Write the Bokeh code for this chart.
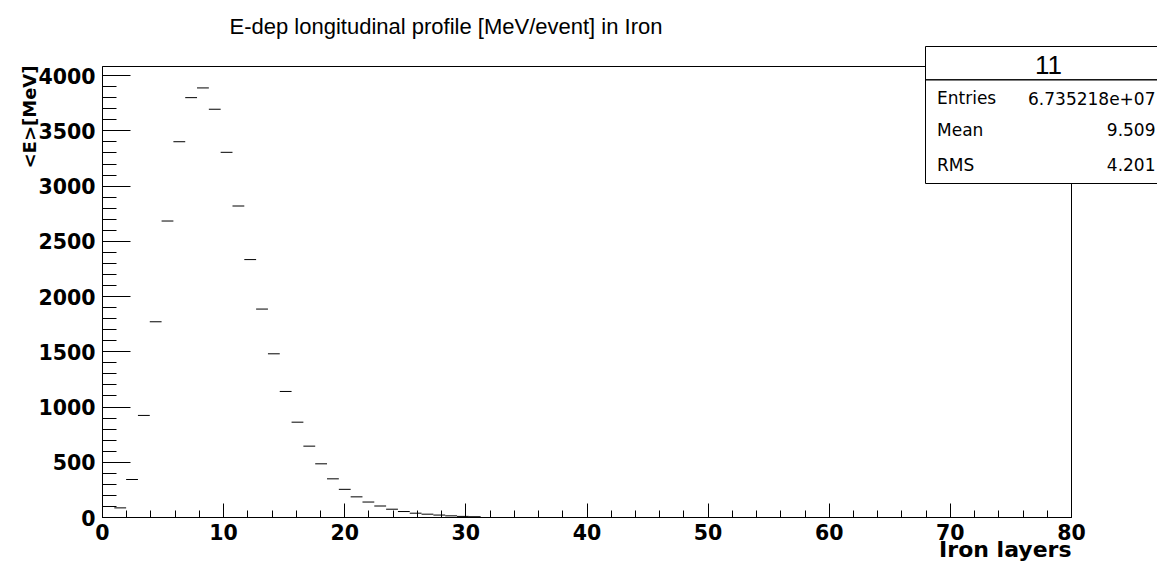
import numpy as np
from bokeh.plotting import figure
from bokeh.models import Range1d, FixedTicker, Label, BoxAnnotation
from bokeh.embed import file_html
from bokeh.resources import INLINE

# ---------------- data ----------------
x_min, x_max, n_bins = 0.0, 80.0, 82
# mean energy deposit per bin [MeV/event], bins 0..31 (rest are ~0)
bin_values = [0, 87, 344, 924, 1772, 2684, 3402, 3801, 3889, 3696,
              3306, 2820, 2335, 1887, 1482, 1141, 863, 646, 486, 350,
              255, 187, 140, 104, 75, 54, 39, 30, 22, 15, 10, 7]
y_max = 4083

title_text = "E-dep longitudinal profile [MeV/event] in Iron"
x_title = "Iron layers"
y_title = "<E>[MeV]"
stats_name = "11"
stats_labels = ["Entries", "Mean", "RMS"]
stats_values = ["6.735218e+07", "9.509", "4.201"]

x_major = list(range(0, 81, 10))
x_minor = list(range(0, 81, 2))
y_major = list(range(0, 4001, 500))
y_minor = list(range(0, 4001, 100))

# ---------------- layout (pixel placement of the drawing box) ----------------
W, H = 1157, 561
FL, FR, FT, FB = 102, 1071, 66, 517

def dx(px):
    return x_min + (px - FL) / (FR - FL) * (x_max - x_min)

def dy(py):
    return (FB - py) / (FB - FT) * y_max

p = figure(width=W, height=H,
           x_range=Range1d(dx(0), dx(W)), y_range=Range1d(dy(H), dy(0)),
           output_backend="svg", toolbar_location=None, title=None,
           min_border_left=0, min_border_right=0,
           min_border_top=0, min_border_bottom=0)
p.background_fill_color = "white"
p.border_fill_color = "white"
p.outline_line_color = None
p.xgrid.visible = False
p.ygrid.visible = False

tick_font = "DejaVu Sans"
for ax in (p.xaxis[0], p.yaxis[0]):
    ax.fixed_location = 0
    ax.axis_line_color = "black"
    ax.major_tick_line_color = "black"
    ax.minor_tick_line_color = "black"
    ax.major_tick_out = 0
    ax.minor_tick_out = 0
    ax.major_label_text_font = tick_font
    ax.major_label_text_font_style = "bold"
    ax.major_label_text_font_size = "20.5px"
    ax.major_label_text_color = "black"

p.xaxis.bounds = (x_min, x_max)
p.xaxis.ticker = FixedTicker(ticks=x_major, minor_ticks=x_minor)
p.xaxis.major_tick_in = 14
p.xaxis.minor_tick_in = 7
p.xaxis.major_label_standoff = 6

p.yaxis.bounds = (0, y_max)
p.yaxis.ticker = FixedTicker(ticks=y_major, minor_ticks=y_minor)
p.yaxis.major_tick_in = 28
p.yaxis.minor_tick_in = 14
p.yaxis.major_label_standoff = 7

# frame (top and right sides)
p.add_layout(BoxAnnotation(left=x_min, right=x_max, bottom=0, top=y_max,
                           fill_alpha=0.0, line_color="black", line_width=1, line_alpha=1.0))

# ---------------- histogram marks ----------------
edges = np.linspace(x_min, x_max, n_bins + 1)
nv = len(bin_values)
p.segment(x0=edges[:nv], x1=edges[1:nv + 1], y0=bin_values, y1=bin_values,
          line_color="black", line_width=1)

# ---------------- titles ----------------
p.add_layout(Label(x=dx(445.5), y=dy(26), text=title_text, text_align="center",
                   text_baseline="middle", text_font="Liberation Sans",
                   text_font_size="22px", text_color="black"))
p.add_layout(Label(x=x_max, y=dy(549), text=x_title, text_align="right",
                   text_baseline="middle", text_font=tick_font, text_font_style="bold",
                   text_font_size="22px", text_color="black"))
p.add_layout(Label(x=dx(29), y=dy(65), text=y_title, angle=np.pi / 2, text_align="right",
                   text_baseline="middle", text_font=tick_font, text_font_style="bold",
                   text_font_size="18px", text_color="black"))

# ---------------- stats box ----------------
p.add_layout(BoxAnnotation(left=dx(925), right=dx(1172), top=dy(46), bottom=dy(183),
                           fill_color="white", fill_alpha=1.0,
                           line_color="black", line_width=1, line_alpha=1.0))
p.add_layout(BoxAnnotation(left=dx(925), right=dx(1172), top=dy(79.3), bottom=dy(79.3),
                           fill_alpha=0.0, line_color="black", line_width=1, line_alpha=1.0))
p.add_layout(Label(x=dx(1048), y=dy(64.7), text=stats_name, text_align="center",
                   text_baseline="middle", text_font="Liberation Sans",
                   text_font_size="26px", text_color="black"))
row_centers = [97.5, 129.0, 164.0]
for lab, val, cy in zip(stats_labels, stats_values, row_centers):
    p.add_layout(Label(x=dx(936.5), y=dy(cy), text=lab, text_align="left",
                       text_baseline="middle", text_font="DejaVu Sans",
                       text_font_size="17px", text_color="black"))
    p.add_layout(Label(x=dx(1155), y=dy(cy), text=val, text_align="right",
                       text_baseline="middle", text_font="DejaVu Sans",
                       text_font_size="17px", text_color="black"))

open("out.html", "w").write(file_html(p, INLINE))
